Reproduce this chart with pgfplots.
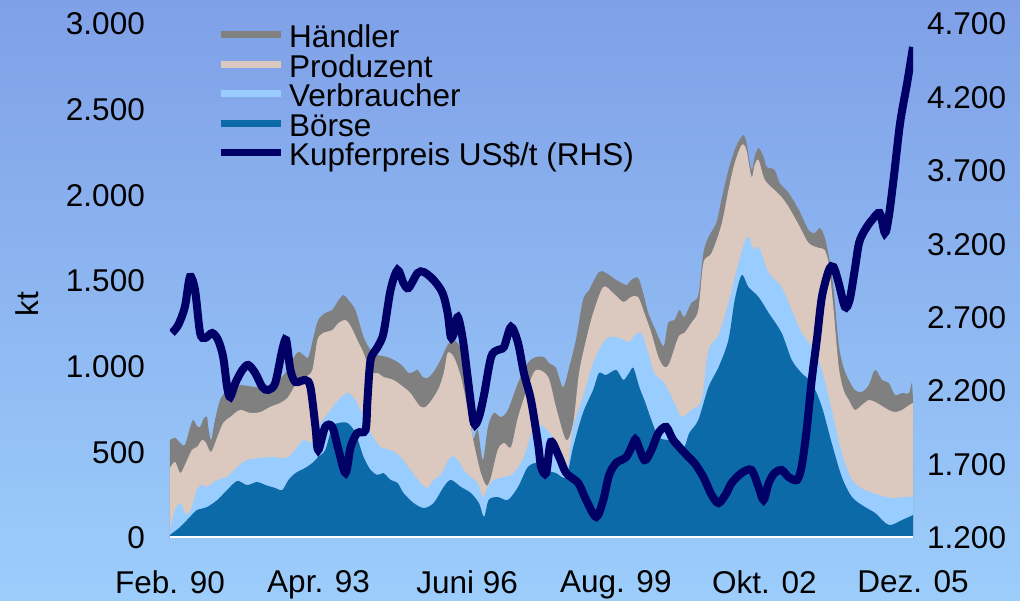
\documentclass[border=0pt]{standalone}
\usepackage{fontspec}
\setmainfont{Liberation Sans}
\usepackage{pgfplots}
\pgfplotsset{compat=1.18}
\definecolor{bgtop}{RGB}{127,160,231}
\definecolor{bgbot}{RGB}{156,205,251}
\definecolor{haendler}{RGB}{128,128,128}
\definecolor{produzent}{RGB}{219,200,190}
\definecolor{verbraucher}{RGB}{153,204,255}
\definecolor{boerse}{RGB}{12,106,168}
\definecolor{kupfer}{RGB}{0,0,102}
\newcommand{\bigf}{\fontsize{31.5}{31.5}\selectfont}
\begin{document}
\begin{tikzpicture}
\shade[top color=bgtop, bottom color=bgbot] (-170pt,-63pt) rectangle (850pt,538pt);
\useasboundingbox (-170pt,-63pt) rectangle (850pt,538pt);
\node[rotate=90, font=\bigf, inner sep=0pt] at (-143pt,234pt) {kt};
\begin{axis}[
  at={(0pt,0pt)}, anchor=south west,
  scale only axis, width=743pt, height=514pt,
  xmin=0, xmax=190, ymin=0, ymax=3000,
  axis x line*=bottom, axis y line*=left,
  axis line style={draw=none},
  major tick length=0pt,
  xtick={0,38,76,114,152,190},
  xticklabels={Feb. 90, Apr. 93, Juni 96, Aug. 99, Okt. 02, Dez. 05},
  ytick={0,500,1000,1500,2000,2500,3000},
  yticklabels={0,500,1.000,1.500,2.000,2.500,3.000},
  tick label style={font=\bigf, inner sep=0pt},
  yticklabel style={anchor=east, xshift=-25pt},
  xticklabel style={anchor=north, yshift=-32pt},
]
\addplot[draw=none, fill=haendler, smooth, tension=0.5] coordinates {
(0,572) (1.3,584) (2.6,555) (3.8,543) (5.1,642) (5.9,689) (6.9,654) (7.7,648) (8.7,700) (9.5,706) (9.7,660) (10.5,572) (11.5,689) (12.8,805) (14.1,852) (15.4,893) (17.9,893) (21.8,881) (24.4,876) (26.9,905) (29.5,963) (31.3,1039) (32.8,1086) (34.1,1068) (35.4,1056) (36.7,1173) (37.9,1272) (39.7,1313) (41.5,1331) (43.1,1389) (44.4,1418) (45.6,1389) (47.4,1331) (49.5,1173) (51.3,1097) (53.1,1068) (55.6,1056) (58.2,1027) (59.7,998) (61.0,963) (62.3,969) (63.3,981) (64.6,940) (65.9,934) (67.4,969) (69.2,1039) (71.0,1127) (72.6,1156) (74.4,1097) (76.2,881) (77.4,590) (78.7,630) (80.0,455) (81.3,648) (82.8,730) (84.6,706) (86.4,747) (89.0,905) (91.5,1021) (93.6,1056) (95.6,1056) (96.9,1021) (98.7,992) (100.5,881) (102.1,998) (103.8,1156) (105.6,1389) (107.2,1448) (109.7,1553) (111.5,1547) (114.1,1506) (116.7,1477) (117.9,1506) (119.7,1518) (121.0,1430) (122.3,1313) (123.8,1232) (125.6,1138) (126.4,1127) (127.4,1255) (129.0,1272) (130.3,1331) (131.5,1290) (133.3,1372) (135.1,1418) (136.4,1664) (137.7,1757) (139.7,1839) (141.0,1973) (142.8,2148) (144.4,2265) (145.6,2323) (146.7,2352) (147.4,2306) (148.7,2148) (149.5,2224) (150.5,2276) (151.8,2224) (152.6,2166) (154.6,2148) (155.9,2072) (158.2,2014) (160.8,1915) (163.3,1798) (164.9,1780) (166.2,1809) (167.4,1757) (168.5,1640) (169.7,1450) (171.0,1130) (172.3,990) (173.6,922) (175.1,864) (176.9,852) (178.7,893) (180.3,981) (182.1,922) (183.8,905) (185.4,835) (187.2,846) (189.0,846) (189.7,905) (190,800)
} \closedcycle;
\addplot[draw=none, fill=produzent, smooth, tension=0.5] coordinates {
(0,409) (1.3,444) (2.6,379) (3.8,426) (5.6,514) (6.9,531) (8.2,572) (9.2,555) (10.5,502) (12.1,590) (13.6,671) (15.4,706) (17.9,747) (20.5,730) (23.1,735) (25.6,765) (28.2,788) (30.0,817) (31.3,864) (32.8,922) (34.6,940) (36.4,981) (37.7,1156) (39.2,1197) (41.5,1214) (43.1,1255) (44.9,1272) (46.2,1237) (47.9,1156) (49.5,1080) (51.3,969) (53.1,963) (54.6,940) (57.2,922) (59.7,881) (61.5,846) (64.1,765) (65.9,776) (68.5,864) (70.0,963) (71.0,1080) (72.6,1056) (74.4,940) (76.2,747) (77.7,555) (79.5,379) (81.0,305) (82.1,356) (83.8,514) (85.4,555) (87.2,531) (89.0,706) (91.5,881) (93.6,981) (96.7,940) (98.7,765) (101.3,572) (103.1,671) (104.6,963) (106.4,1156) (108.2,1313) (110.8,1465) (113.3,1430) (115.9,1378) (117.9,1407) (119.7,1407) (121.3,1313) (123.1,1197) (124.9,1056) (126.4,998) (127.7,1021) (130.0,1173) (131.5,1197) (133.3,1255) (135.1,1331) (136.4,1605) (138.5,1664) (141.0,1827) (142.8,2031) (144.4,2189) (146.2,2294) (147.4,2265) (148.7,2107) (149.5,2177) (150.5,2206) (152.1,2090) (154.6,2031) (156.4,1990) (158.2,1932) (160.8,1827) (163.3,1722) (165.9,1693) (167.4,1681) (168.5,1593) (169.7,1330) (171.0,1000) (172.3,860) (173.6,805) (175.1,747) (176.9,776) (178.7,805) (180.3,794) (182.1,770) (183.8,747) (185.4,735) (187.2,747) (189.0,776) (190,788)
} \closedcycle;
\addplot[draw=none, fill=verbraucher, smooth, tension=0.5] coordinates {
(0,47) (1.3,163) (2.6,204) (3.8,146) (5.1,152) (6.9,280) (8.2,309) (9.5,298) (12.1,339) (14.6,356) (17.2,414) (19.7,455) (23.1,467) (26.2,473) (28.2,467) (30.3,473) (32.6,531) (34.1,572) (36.4,560) (37.9,648) (40.5,730) (43.1,805) (45.4,846) (47.4,805) (49.5,706) (51.3,613) (53.8,531) (56.4,514) (59.0,473) (61.5,397) (64.1,321) (65.9,292) (67.4,339) (69.2,368) (71.8,473) (73.6,455) (75.1,397) (76.9,356) (78.7,321) (80.0,239) (81.3,298) (82.8,339) (85.4,356) (87.9,379) (90.5,473) (93.1,648) (95.6,648) (98.7,555) (101.3,379) (103.1,648) (105.6,823) (108.2,1021) (110.8,1138) (112.3,1173) (114.9,1167) (117.4,1144) (118.5,1173) (120.5,1197) (122.3,1080) (123.8,963) (126.4,905) (129.0,788) (130.8,706) (133.3,747) (135.9,805) (137.7,1097) (140.3,1185) (142.8,1372) (144.9,1564) (146.7,1710) (147.9,1757) (149.2,1681) (150.5,1699) (153.1,1547) (156.4,1465) (159.7,1290) (161.5,1197) (164.1,1115) (166.7,981) (169.2,747) (171.8,496) (174.4,339) (177.7,280) (181.3,251) (184.6,233) (187.2,239) (190,239)
} \closedcycle;
\addplot[draw=none, fill=boerse, smooth, tension=0.5] coordinates {
(0,18) (2.6,64) (5.1,123) (6.9,163) (9.5,181) (12.1,222) (14.6,280) (17.2,333) (19.7,309) (22.3,327) (24.4,309) (26.9,292) (28.7,280) (30.3,339) (32.1,379) (34.6,409) (36.4,438) (37.9,473) (39.7,514) (41.5,648) (43.1,671) (45.4,671) (47.4,613) (49.5,473) (51.3,397) (53.1,368) (54.6,379) (56.4,339) (58.2,321) (59.7,263) (62.3,204) (64.9,175) (67.4,204) (70.0,298) (71.8,339) (74.4,298) (76.9,263) (79.0,204) (80.3,123) (81.5,222) (83.8,239) (86.4,222) (89.0,298) (91.5,414) (94.1,438) (96.2,397) (98.7,379) (101.3,356) (103.1,531) (105.6,730) (108.2,864) (109.7,963) (111.5,951) (114.1,981) (115.9,922) (117.4,963) (118.5,992) (120.0,881) (121.3,805) (123.1,689) (124.9,590) (127.4,572) (130.0,572) (131.5,531) (132.8,613) (135.1,689) (137.7,881) (140.3,998) (142.8,1156) (144.4,1389) (146.2,1535) (147.9,1465) (150.5,1407) (153.1,1313) (156.4,1197) (159.0,1039) (161.5,963) (164.1,905) (166.7,765) (169.2,555) (171.8,356) (174.4,239) (177.7,181) (180.3,146) (183.8,76) (187.2,105) (190,134)
} \closedcycle;
\addplot[white, line width=3.5pt] coordinates {(0,0) (190,0)};
\end{axis}
\begin{axis}[
  at={(0pt,0pt)}, anchor=south west,
  scale only axis, width=743pt, height=514pt,
  xmin=0, xmax=190, ymin=1200, ymax=4700,
  axis x line=none, axis y line*=right,
  axis line style={draw=none},
  major tick length=0pt,
  ytick={1200,1700,2200,2700,3200,3700,4200,4700},
  yticklabels={1.200,1.700,2.200,2.700,3.200,3.700,4.200,4.700},
  yticklabel style={font=\bigf, inner sep=0pt, anchor=west, xshift=14pt},
  legend style={at={(axis description cs:0.0633,0.9942)}, anchor=north west,
    draw=none, fill=none, inner sep=0pt, outer sep=0pt, font=\bigf, row sep=0pt,
    nodes={inner sep=0pt, outer sep=0pt, text height=21pt, text depth=8.5pt, anchor=base west},
    /tikz/every odd column/.append style={column sep=5pt}},
  legend image code/.code={\draw[#1, line width=7pt] (0pt,13pt) -- (60pt,13pt);},
]
\addlegendimage{haendler}
\addlegendentry{Händler}
\addlegendimage{produzent}
\addlegendentry{Produzent}
\addlegendimage{verbraucher}
\addlegendentry{Verbraucher}
\addlegendimage{boerse}
\addlegendentry{Börse}
\addplot[kupfer, line width=8pt, smooth, tension=0.5] coordinates {
(0.5,2596) (2.1,2650) (3.8,2773) (5.1,2977) (6.4,2889) (7.7,2596) (9.0,2562) (10.8,2596) (12.3,2548) (13.6,2432) (14.6,2228) (15.4,2160) (16.7,2255) (18.5,2344) (20.0,2378) (21.8,2323) (23.6,2228) (25.1,2208) (26.9,2255) (28.7,2480) (29.7,2548) (30.8,2344) (32.1,2262) (34.6,2276) (35.9,2228) (37.2,1956) (37.9,1799) (39.7,1956) (41.5,1956) (43.1,1799) (44.9,1643) (46.2,1820) (47.9,1915) (50.0,1935) (50.5,2140) (51.3,2412) (53.1,2501) (54.6,2596) (56.4,2889) (58.2,3025) (59.7,2936) (61.0,2902) (63.3,3004) (64.9,3011) (67.4,2957) (69.7,2868) (71.0,2732) (71.8,2569) (72.6,2596) (73.6,2705) (74.9,2548) (76.2,2276) (77.7,1983) (79.0,2024) (80.3,2174) (82.1,2432) (83.8,2480) (85.4,2501) (87.2,2637) (89.0,2528) (90.5,2323) (92.3,2140) (94.1,1847) (94.9,1683) (96.2,1643) (97.4,1854) (99.5,1752) (101.3,1643) (104.4,1574) (106.4,1459) (109.0,1343) (110.8,1459) (112.3,1629) (114.1,1711) (116.7,1752) (118.5,1847) (119.2,1867) (121.3,1731) (123.1,1799) (124.9,1915) (126.9,1956) (128.7,1867) (132.1,1765) (134.1,1711) (136.4,1615) (138.5,1493) (140.3,1438) (142.3,1506) (143.6,1574) (146.2,1643) (148.7,1663) (150.5,1547) (151.8,1459) (153.1,1574) (154.6,1643) (156.4,1663) (158.2,1615) (160.3,1595) (161.5,1683) (162.8,1935) (164.1,2276) (165.4,2548) (166.7,2841) (168.5,3025) (169.7,3045) (171.0,2936) (172.6,2773) (173.8,2821) (175.1,3025) (176.2,3209) (177.7,3297) (179.5,3365) (181.5,3413) (182.8,3277) (183.8,3386) (185.1,3658) (186.7,4026) (188.5,4298) (190,4543)
};
\addlegendentry{Kupferpreis US\$/t (RHS)}
\end{axis}
\end{tikzpicture}
\end{document}
